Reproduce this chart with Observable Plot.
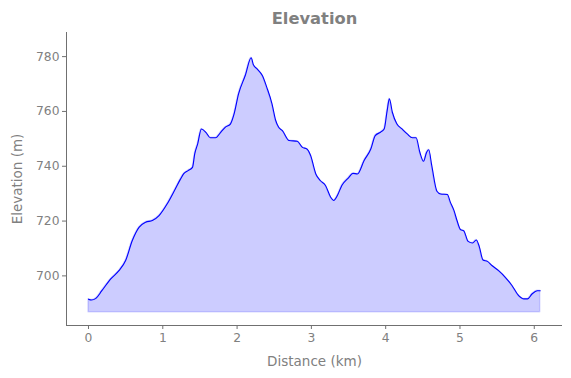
<!DOCTYPE html>
<html>
<head>
<meta charset="utf-8">
<script src="https://cdn.jsdelivr.net/npm/d3@7"></script>
<script src="https://cdn.jsdelivr.net/npm/@observablehq/plot@0.6"></script>
<style>
  html, body { margin: 0; padding: 0; background: #fff; }
  #chart svg { display: block; }
</style>
</head>
<body>
<div id="chart"></div>
<script>
const distanceKm = [0.00, 0.04, 0.10, 0.18, 0.30, 0.41, 0.50, 0.59, 0.68, 0.77, 0.86, 0.95, 1.06, 1.17, 1.24, 1.28, 1.34, 1.40, 1.43, 1.47, 1.52, 1.58, 1.64, 1.71, 1.78, 1.84, 1.91, 1.96, 2.02, 2.11, 2.19, 2.22, 2.27, 2.34, 2.40, 2.47, 2.52, 2.56, 2.61, 2.70, 2.81, 2.88, 2.94, 2.99, 3.06, 3.12, 3.19, 3.26, 3.30, 3.35, 3.41, 3.50, 3.56, 3.62, 3.71, 3.80, 3.86, 3.93, 3.98, 4.02, 4.05, 4.09, 4.15, 4.22, 4.29, 4.36, 4.41, 4.46, 4.51, 4.55, 4.58, 4.62, 4.69, 4.74, 4.83, 4.87, 4.92, 4.96, 5.01, 5.05, 5.11, 5.17, 5.22, 5.26, 5.31, 5.37, 5.43, 5.52, 5.61, 5.70, 5.79, 5.86, 5.91, 5.97, 6.04, 6.08];
const elevationM = [691.5, 691.2, 691.8, 694.6, 698.9, 701.9, 705.6, 712.9, 717.7, 719.6, 720.2, 722.0, 726.3, 731.8, 735.4, 737.2, 738.4, 739.6, 744.5, 748.2, 753.6, 752.4, 750.4, 750.4, 752.4, 754.2, 755.4, 759.1, 766.4, 773.1, 779.6, 777.0, 775.5, 773.1, 768.8, 762.8, 756.7, 754.2, 753.0, 749.4, 749.1, 746.9, 746.3, 743.9, 737.2, 734.8, 733.0, 728.7, 727.5, 729.3, 733.0, 735.8, 737.4, 737.2, 742.1, 746.3, 751.2, 752.4, 753.6, 760.3, 764.6, 759.7, 755.5, 753.6, 751.8, 750.4, 750.4, 745.1, 741.8, 745.0, 746.0, 740.3, 730.9, 729.9, 729.7, 726.9, 723.8, 720.2, 716.8, 716.5, 712.6, 712.0, 713.1, 710.7, 705.8, 705.3, 703.8, 701.9, 699.5, 696.5, 692.8, 691.6, 691.6, 693.4, 694.6, 694.6];
const baselineM = 686.7;
const xTicks = [0, 1, 2, 3, 4, 5, 6];
const yTicks = [700, 720, 740, 760, 780];
const xDomain = [-0.296, 6.38];
const yDomain = [681.9, 788.8];
const titleText = "Elevation";
const xLabel = "Distance (km)";
const yLabel = "Elevation (m)";

const data = distanceKm.map((d, i) => ({d, e: elevationM[i]}));
const grey = "#808080";
const spine = "#707070";
const font = "DejaVu Sans, sans-serif";

const chart = Plot.plot({
  width: 571,
  height: 378,
  marginLeft: 66,
  marginRight: 9,
  marginTop: 32,
  marginBottom: 53,
  style: {fontFamily: font, fontSize: "12.3px", color: grey, background: "#fff"},
  x: {domain: xDomain, ticks: xTicks, label: null},
  y: {domain: yDomain, ticks: yTicks, label: null},
  marks: [
    Plot.areaY(data, {x: "d", y1: baselineM, y2: "e", fill: "blue", fillOpacity: 0.2, stroke: "blue", strokeOpacity: 0.15, strokeWidth: 1.5, curve: "monotone-x"}),
    Plot.lineY(data, {x: "d", y: "e", stroke: "blue", strokeWidth: 1.1, curve: "monotone-x"}),
    Plot.ruleX([xDomain[0]], {stroke: spine, strokeWidth: 1}),
    Plot.ruleY([yDomain[0]], {stroke: spine, strokeWidth: 1}),
    Plot.axisX({ticks: xTicks, tickFormat: d3.format("d"), tickSize: 4, tickPadding: 4, stroke: spine, fill: grey, label: null, fontSize: 12.3}),
    Plot.axisY({ticks: yTicks, tickFormat: d3.format("d"), tickSize: 4, tickPadding: 3, stroke: spine, fill: grey, label: null, fontSize: 12.3}),
    Plot.text([titleText], {frameAnchor: "top", dy: -14, fill: grey, fontWeight: "bold", fontSize: 16.3, lineAnchor: "middle"}),
    Plot.text([xLabel], {frameAnchor: "bottom", dy: 36, fill: grey, fontSize: 13.5, lineAnchor: "middle"}),
    Plot.text([yLabel], {frameAnchor: "left", dx: -49, rotate: -90, fill: grey, fontSize: 13.5, lineAnchor: "middle", textAnchor: "middle"})
  ]
});
document.getElementById("chart").appendChild(chart);
</script>
</body>
</html>
